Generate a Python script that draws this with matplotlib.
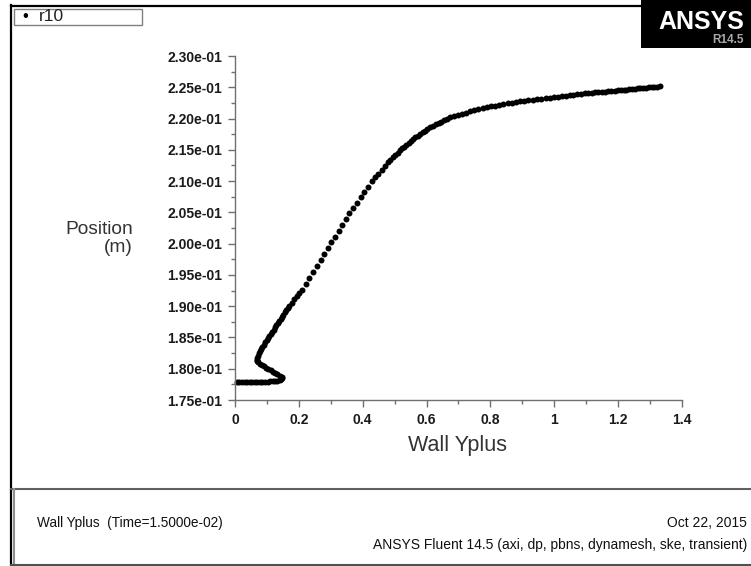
import matplotlib
matplotlib.use("Agg")
import matplotlib.pyplot as plt
from matplotlib.ticker import MultipleLocator, FixedLocator
from matplotlib.patches import Rectangle
from matplotlib.lines import Line2D

plt.rcParams['font.family'] = ['Liberation Sans', 'DejaVu Sans']

# wall yplus along the wall (x) against position along the wall in m (y)
wall_yplus = [
    0.006, 0.014, 0.022, 0.030, 0.038, 0.046, 0.054, 0.062, 0.070, 0.078, 0.086, 0.094, 0.102, 0.110, 0.118, 0.126,
    0.133, 0.140, 0.145, 0.147, 0.146,
    0.140, 0.133, 0.126, 0.119, 0.112, 0.104, 0.097, 0.090, 0.083, 0.077, 0.072, 0.069,
    0.068, 0.069, 0.071, 0.074, 0.078,
    0.082, 0.086, 0.091, 0.095, 0.099, 0.103,
    0.107, 0.112, 0.116, 0.121, 0.125, 0.129, 0.134, 0.138, 0.143, 0.147, 0.151, 0.156, 0.160, 0.165, 0.169,
    0.1773, 0.1854, 0.1942, 0.2020, 0.2098,
    0.2214, 0.2330, 0.2446, 0.2565, 0.2681, 0.2797, 0.2913,
    0.3022, 0.3132, 0.3242, 0.3351, 0.3461, 0.3570,
    0.3690, 0.3812, 0.3931, 0.4050, 0.4172, 0.4291,
    0.4391, 0.4491, 0.4591, 0.4692, 0.4792,
    0.4867, 0.4942, 0.5017, 0.5093, 0.5168,
    0.5234, 0.5302, 0.5368, 0.5437, 0.5503, 0.5572, 0.5638,
    0.5716, 0.5794, 0.5873, 0.5951, 0.6029, 0.6107,
    0.6198, 0.6286, 0.6377, 0.6464, 0.6555, 0.6643, 0.6734,
    0.6859, 0.6984, 0.7110, 0.7235, 0.7360,
    0.7492, 0.7623, 0.7755, 0.7886, 0.8018,
    0.8146, 0.8278, 0.8406, 0.8538, 0.8666, 0.8798, 0.8926,
    0.9059, 0.9192, 0.9325, 0.9459, 0.9592, 0.9725, 0.9858, 0.9991,
    1.0113, 1.0234, 1.0354, 1.0477, 1.0599, 1.0719, 1.0840, 1.0962,
    1.1065, 1.1169, 1.1272, 1.1375, 1.1479, 1.1582, 1.1686, 1.1789, 1.1892, 1.1996,
    1.2083, 1.2171, 1.2258, 1.2346, 1.2434, 1.2522, 1.2609, 1.2697, 1.2785, 1.2873, 1.2960, 1.3048, 1.3136, 1.3223, 1.3311,
]
position = [
    0.17790, 0.17790, 0.17790, 0.17791, 0.17791, 0.17791, 0.17792, 0.17792, 0.17792, 0.17793, 0.17793, 0.17794, 0.17795, 0.17796, 0.17798, 0.17801,
    0.17806, 0.17816, 0.17832, 0.17850, 0.17868,
    0.17888, 0.17908, 0.17929, 0.17950, 0.17972, 0.17994, 0.18016, 0.18038, 0.18060, 0.18082, 0.18100, 0.18118,
    0.18140, 0.18175, 0.18210, 0.18245, 0.18280,
    0.18315, 0.18350, 0.18385, 0.18420, 0.18455, 0.18490,
    0.18524, 0.18558, 0.18592, 0.18626, 0.18660, 0.18695, 0.18729, 0.18763, 0.18797, 0.18831, 0.18865, 0.18900, 0.18934, 0.18968, 0.19002,
    0.19057, 0.19113, 0.19169, 0.19217, 0.19257,
    0.19353, 0.19448, 0.19544, 0.19640, 0.19736, 0.19832, 0.19927,
    0.20020, 0.20114, 0.20207, 0.20300, 0.20394, 0.20486,
    0.20571, 0.20657, 0.20742, 0.20827, 0.20913, 0.20997,
    0.21058, 0.21119, 0.21179, 0.21240, 0.21301,
    0.21339, 0.21378, 0.21416, 0.21454, 0.21493,
    0.21523, 0.21552, 0.21582, 0.21611, 0.21641, 0.21670, 0.21700,
    0.21727, 0.21753, 0.21780, 0.21807, 0.21833, 0.21860,
    0.21882, 0.21906, 0.21929, 0.21951, 0.21973, 0.21997, 0.22020,
    0.22039, 0.22058, 0.22077, 0.22096, 0.22115,
    0.22131, 0.22147, 0.22163, 0.22179, 0.22195,
    0.22206, 0.22218, 0.22229, 0.22241, 0.22253, 0.22264, 0.22275,
    0.22283, 0.22291, 0.22299, 0.22307, 0.22315, 0.22323, 0.22331, 0.22339,
    0.22347, 0.22355, 0.22363, 0.22371, 0.22379, 0.22387, 0.22395, 0.22403,
    0.22408, 0.22413, 0.22418, 0.22422, 0.22427, 0.22432, 0.22437, 0.22441, 0.22446, 0.22451,
    0.22455, 0.22459, 0.22463, 0.22468, 0.22472, 0.22476, 0.22481, 0.22485, 0.22489, 0.22493, 0.22497, 0.22502, 0.22506, 0.22510, 0.22515,
]

x_ticks = [0, 0.2, 0.4, 0.6, 0.8, 1.0, 1.2, 1.4]
x_tick_labels = ["0", "0.2", "0.4", "0.6", "0.8", "1", "1.2", "1.4"]
y_ticks = [0.175, 0.180, 0.185, 0.190, 0.195, 0.200, 0.205, 0.210, 0.215, 0.220, 0.225, 0.230]

W, H = 751, 566
fig = plt.figure(figsize=(W / 100, H / 100), dpi=100)

def fx(px):
    return px / W

def fy(py):
    return 1 - py / H

# window frame (black left / top edges)
fig.add_artist(Line2D([fx(11), fx(11)], [fy(5), fy(566)], color="black", lw=1.6))
fig.add_artist(Line2D([fx(11), fx(645)], [fy(5.5), fy(5.5)], color="black", lw=1.6))

# ANSYS logo block
fig.add_artist(Rectangle((fx(641), fy(48)), fx(751) - fx(641), fy(0) - fy(48),
                         facecolor="black", edgecolor="none"))
fig.text(fx(744), fy(22), "ANSYS", color="white", fontsize=18, fontweight="bold",
         ha="right", va="center")
fig.text(fx(744), fy(40), "R14.5", color="#a8a8a8", fontsize=8.5, fontweight="bold",
         ha="right", va="center")

# legend box
fig.add_artist(Rectangle((fx(13.5), fy(25)), fx(142) - fx(13.5), fy(9) - fy(25),
                         facecolor="white", edgecolor="#808080", lw=1))
fig.text(fx(22), fy(17), "\u2022", fontsize=12, color="black", ha="left", va="center")
fig.text(fx(39), fy(16.5), "r10", fontsize=12.5, color="#222222", ha="left", va="center")

# main plot
ax = fig.add_axes([fx(235), fy(400), fx(682) - fx(235), fy(56) - fy(400)])
ax.plot(wall_yplus, position, linestyle="none", marker="o", markersize=4.3,
        color="black", markeredgewidth=0, clip_on=False)

ax.set_xlim(0, 1.4)
ax.set_ylim(0.175, 0.230)
ax.xaxis.set_major_locator(FixedLocator(x_ticks))
ax.set_xticklabels(x_tick_labels)
ax.xaxis.set_minor_locator(MultipleLocator(0.1))
ax.yaxis.set_major_locator(FixedLocator(y_ticks))
ax.set_yticklabels(["%.2e" % v for v in y_ticks])
ax.yaxis.set_minor_locator(MultipleLocator(0.0025))

for side in ["top", "right"]:
    ax.spines[side].set_visible(False)
for side in ["left", "bottom"]:
    ax.spines[side].set_color("#707070")
    ax.spines[side].set_linewidth(1.0)

ax.tick_params(which="major", length=5, width=1, color="#707070", pad=4,
               labelsize=10, labelcolor="#1a1a1a")
ax.tick_params(which="minor", length=3, width=1, color="#707070")
for lab in ax.get_xticklabels() + ax.get_yticklabels():
    lab.set_fontweight("bold")

fig.text(fx(458), fy(446), "Wall Yplus", fontsize=15.5, color="#333333",
         ha="center", va="center")
fig.text(fx(133), fy(230), "Position", fontsize=13.8, color="#333333",
         ha="right", va="center")
fig.text(fx(133), fy(248), "(m)", fontsize=13.8, color="#333333",
         ha="right", va="center")

# bottom info panel
fig.add_artist(Line2D([fx(11), fx(751)], [fy(489), fy(489)], color="#606060", lw=1.5))
fig.add_artist(Line2D([fx(13.5), fx(13.5)], [fy(489), fy(564)], color="#909090", lw=1.5))
fig.add_artist(Line2D([fx(11), fx(751)], [fy(564.5), fy(564.5)], color="#505050", lw=1.5))

fig.text(fx(37), fy(523), "Wall Yplus  (Time=1.5000e-02)", fontsize=9.8,
         color="#111111", ha="left", va="center")
fig.text(fx(747), fy(523), "Oct 22, 2015", fontsize=10, color="#111111",
         ha="right", va="center")
fig.text(fx(747), fy(545), "ANSYS Fluent 14.5 (axi, dp, pbns, dynamesh, ske, transient)",
         fontsize=10, color="#111111", ha="right", va="center")

fig.savefig("out.png", dpi=100, facecolor="white")
